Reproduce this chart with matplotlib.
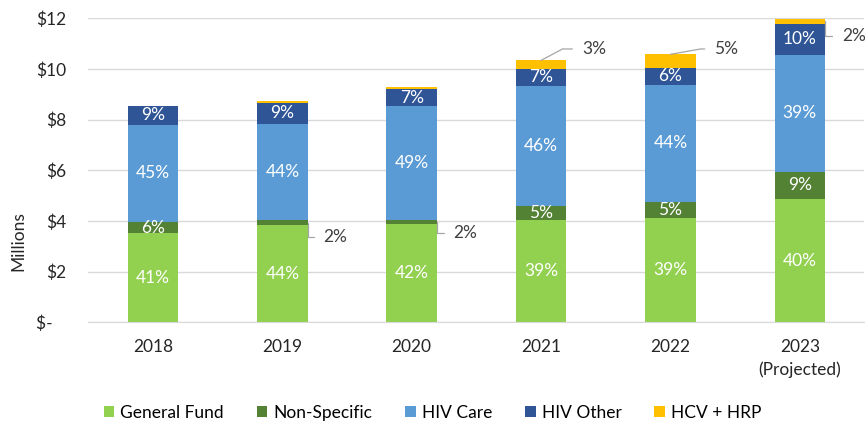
import matplotlib
matplotlib.use("Agg")
import matplotlib.pyplot as plt
import numpy as np

plt.rcParams['font.family'] = ['Lato', 'DejaVu Sans']

years = ["2018", "2019", "2020", "2021", "2022", "2023\n(Projected)"]

# $ millions
general_fund = [3.51, 3.84, 3.88, 4.03, 4.10, 4.87]
non_specific = [0.46, 0.20, 0.15, 0.56, 0.64, 1.08]
hiv_care = [3.82, 3.80, 4.51, 4.74, 4.64, 4.62]
hiv_other = [0.75, 0.83, 0.66, 0.67, 0.67, 1.22]
hcv_hrp = [0.00, 0.07, 0.09, 0.34, 0.53, 0.20]

# percent labels as printed on the chart (None = no label)
pct_gf = [41, 44, 42, 39, 39, 40]
pct_ns = [6, 2, 2, 5, 5, 9]
pct_hc = [45, 44, 49, 46, 44, 39]
pct_ho = [9, 9, 7, 7, 6, 10]
pct_hcv = [None, None, None, 3, 5, 2]

series = [
    ("General Fund", general_fund, pct_gf, "#92D050"),
    ("Non-Specific", non_specific, pct_ns, "#548235"),
    ("HIV Care", hiv_care, pct_hc, "#5B9BD5"),
    ("HIV Other", hiv_other, pct_ho, "#2F5597"),
    ("HCV + HRP", hcv_hrp, pct_hcv, "#FFC000"),
]

FS = 12.5

fig = plt.figure(figsize=(8.65, 4.23), dpi=100)
ax = fig.add_axes([0.1021, 0.238, 0.8973, 0.7187])

x = np.arange(len(years))
width = 0.39
bottom = np.zeros(len(years))
bottoms = {}
for name, vals, pcts, color in series:
    vals = np.array(vals)
    ax.bar(x, vals, width, bottom=bottom, color=color, label=name, zorder=2)
    bottoms[name] = bottom.copy()
    bottom = bottom + vals

# inside labels (white)
inside = {
    "General Fund": [0, 1, 2, 3, 4, 5],
    "Non-Specific": [0, 3, 4, 5],
    "HIV Care": [0, 1, 2, 3, 4, 5],
    "HIV Other": [0, 1, 2, 3, 4, 5],
}
for name, vals, pcts, color in series:
    for i in inside.get(name, []):
        yc = bottoms[name][i] + vals[i] / 2
        ax.text(x[i], yc, f"{pcts[i]}%", color="white", ha="center", va="center",
                fontsize=FS, zorder=3)

# outside callouts: (series, index, anchor side, offset px, angleB)
callouts = [
    ("Non-Specific", 1, "right", (16, -14.5), 90),
    ("Non-Specific", 2, "right", (16.5, -11), 90),
    ("HCV + HRP", 3, "top", (41, 11.4), 28),
    ("HCV + HRP", 4, "top", (44, 5.3), 10),
    ("HCV + HRP", 5, "right", (17, -14.6), 90),
]
lookup = {s[0]: s for s in series}
for name, i, side, off, angB in callouts:
    vals, pcts = lookup[name][1], lookup[name][2]
    if side == "right":
        xy = (x[i] + width / 2, bottoms[name][i] + vals[i] / 2)
    else:
        xy = (x[i], bottoms[name][i] + vals[i])
    ax.annotate(f"{pcts[i]}%", xy=xy, xytext=off, textcoords="offset pixels",
                ha="left", va="center", fontsize=FS, color="#404040",
                annotation_clip=False,
                arrowprops=dict(arrowstyle="-", color="#A6A6A6", lw=0.9,
                                shrinkA=5, shrinkB=0, relpos=(0, 0.5),
                                connectionstyle=f"angle,angleA=0,angleB={angB},rad=0"))

ax.set_xlim(-0.5, len(years) - 0.5)
ax.set_ylim(0, 12)
yt = np.arange(0, 13, 2)
ax.set_yticks(yt)
ax.set_yticklabels(["$-   "] + [f"${v}" for v in yt[1:]])
ax.set_xticks(x)
ax.set_xticklabels(years, linespacing=1.5)
ax.tick_params(axis="both", length=0, labelsize=FS, colors="#262626")
ax.tick_params(axis="x", pad=12)
ax.tick_params(axis="y", pad=16)
ax.grid(axis="y", color="#D9D9D9", lw=1, zorder=0)
for sp in ["top", "right", "left"]:
    ax.spines[sp].set_visible(False)
ax.spines["bottom"].set_color("#D9D9D9")

fig.text(18 / 865, 1 - 241 / 423, "Millions", rotation=90, ha="center", va="center",
         fontsize=FS, color="#262626")

fig.legend(loc="center", bbox_to_anchor=(0.5, 10 / 423), ncol=5, frameon=False,
           fontsize=FS, handlelength=0.6, handleheight=0.6, handletextpad=0.35,
           columnspacing=1.9)

fig.savefig("out.png", dpi=100)
